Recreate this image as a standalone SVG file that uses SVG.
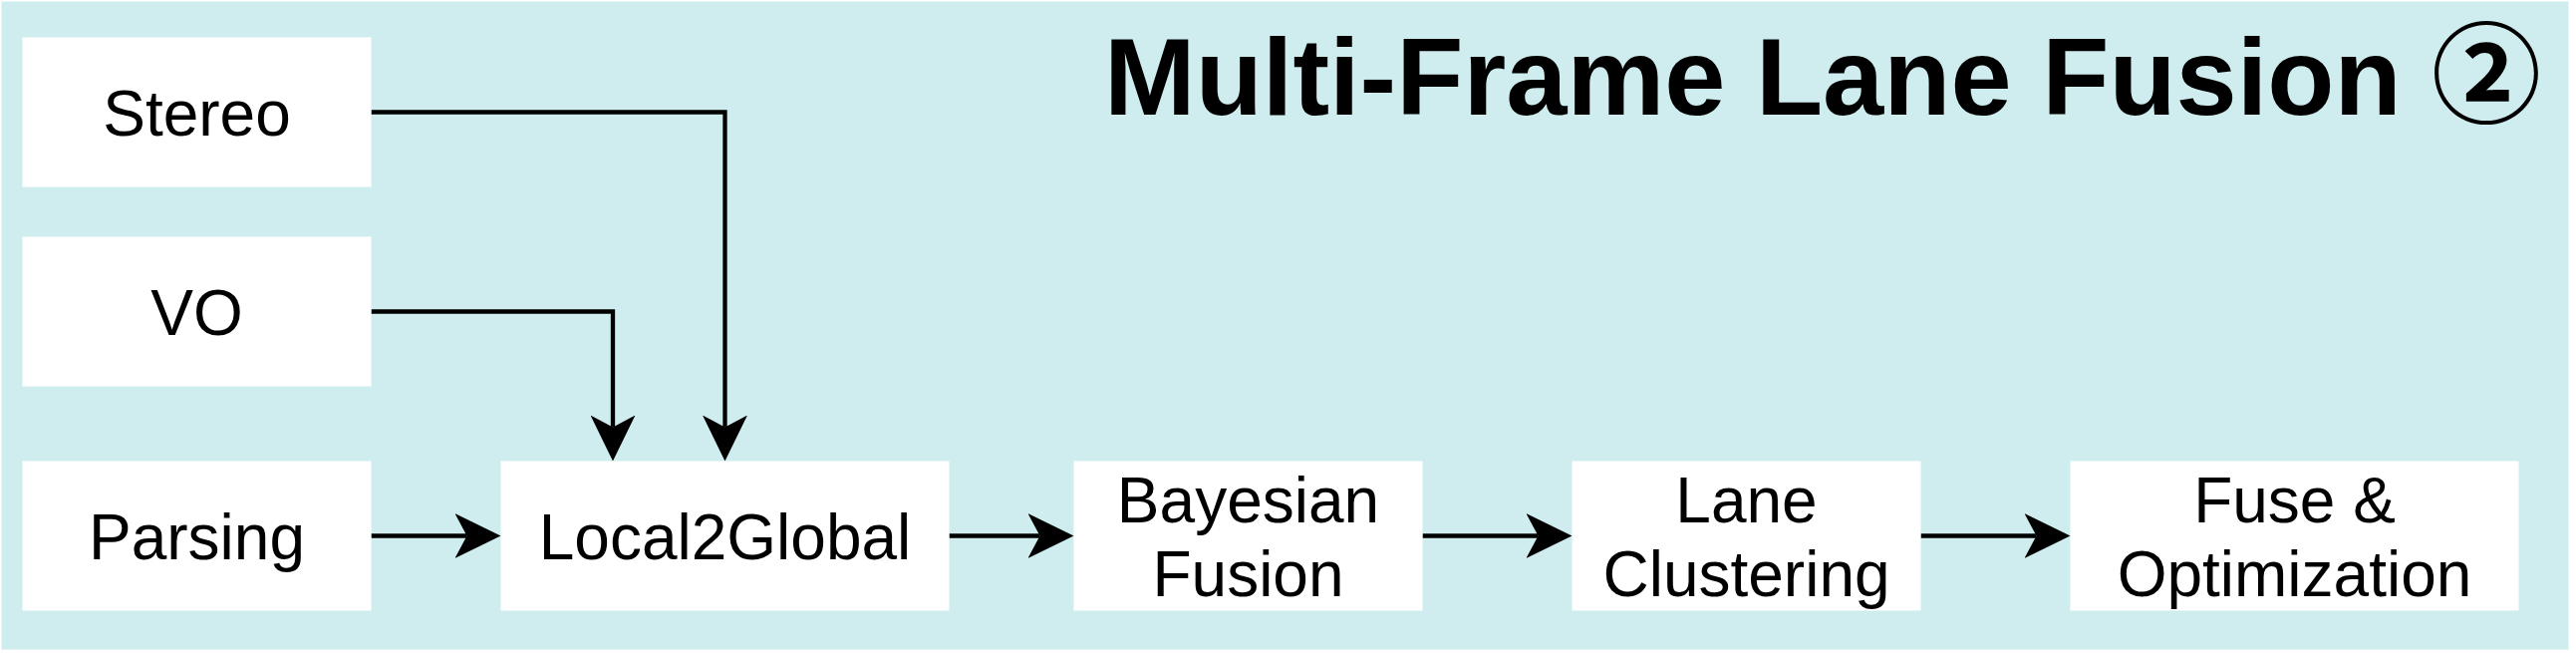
<svg xmlns="http://www.w3.org/2000/svg" width="2585" height="655" viewBox="0 0 2585 655">
<style>
.bg{fill:#CFEDEF;stroke:#E6F6F7;stroke-width:1}
.box{fill:#FFFFFF;stroke:none}
.lbl{font-family:"Liberation Sans",Arial,sans-serif;font-size:64px;fill:#000;text-anchor:middle}
.title{font-family:"Liberation Sans",Arial,"Noto Sans CJK SC",sans-serif;font-size:110px;font-weight:bold;fill:#000}
.edge{fill:none;stroke:#000;stroke-width:4.3}
</style>
<defs>
<marker id="arr" viewBox="0 0 46 45" refX="12" refY="22.5" markerWidth="46" markerHeight="45" markerUnits="userSpaceOnUse" orient="auto">
<path d="M46,22.5 L0,0 L12,22.5 L0,45 Z" fill="#000"/>
</marker>
</defs>
<rect class="bg" x="1.5" y="1.5" width="2576" height="650"/>
<text class="title" x="1108" y="115">Multi-Frame Lane Fusion <tspan x="2440">②</tspan></text>
<g id="connectors">
<path class="edge" d="M372.5,112.5 H727.5 V428.5" marker-end="url(#arr)"/>
<path class="edge" d="M372.5,312.5 H615 V428.5" marker-end="url(#arr)"/>
<path class="edge" d="M372.5,537.5 H468.5" marker-end="url(#arr)"/>
<path class="edge" d="M952.5,537.5 H1043.5" marker-end="url(#arr)"/>
<path class="edge" d="M1427.5,537.5 H1543.5" marker-end="url(#arr)"/>
<path class="edge" d="M1927.5,537.5 H2043.5" marker-end="url(#arr)"/>
</g>
<g id="stereo"><rect class="box" x="22.5" y="37.5" width="350" height="150"/><text class="lbl" x="197.5" y="135.5">Stereo</text></g>
<g id="vo"><rect class="box" x="22.5" y="237.5" width="350" height="150"/><text class="lbl" x="197.5" y="335.5">VO</text></g>
<g id="parsing"><rect class="box" x="22.5" y="462.5" width="350" height="150"/><text class="lbl" x="197.5" y="560.5">Parsing</text></g>
<g id="local2global"><rect class="box" x="502.5" y="462.5" width="450" height="150"/><text class="lbl" x="727.5" y="560.5">Local2Global</text></g>
<g id="bayesian"><rect class="box" x="1077.5" y="462.5" width="350" height="150"/><text class="lbl" x="1252.5" y="524">Bayesian<tspan x="1252.5" y="598">Fusion</tspan></text></g>
<g id="lane"><rect class="box" x="1577.5" y="462.5" width="350" height="150"/><text class="lbl" x="1752.5" y="524">Lane<tspan x="1752.5" y="598">Clustering</tspan></text></g>
<g id="fuse"><rect class="box" x="2077.5" y="462.5" width="450" height="150"/><text class="lbl" x="2302.5" y="524">Fuse &amp;<tspan x="2302.5" y="598">Optimization</tspan></text></g>
</svg>
